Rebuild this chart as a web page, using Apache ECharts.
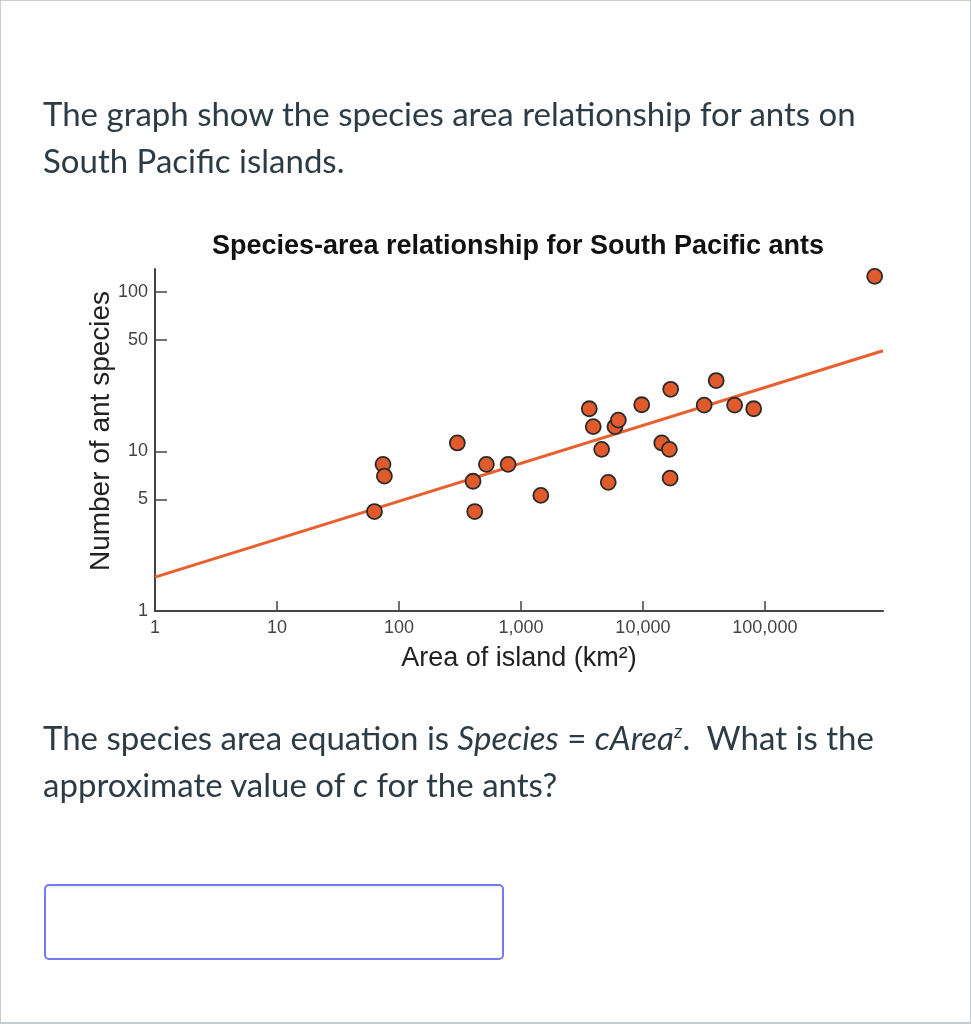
<!DOCTYPE html>
<html>
<head>
<meta charset="utf-8">
<script src="https://cdn.jsdelivr.net/npm/echarts@6/dist/echarts.min.js"></script>
<style>
  html, body { margin: 0; padding: 0; background: #fff; }
  #page {
    position: relative; width: 971px; height: 1024px; overflow: hidden;
    box-sizing: border-box; border: 1px solid #c7cdd1; border-bottom-width: 2px;
  }
  #chart { position: absolute; left: 0; top: 0; width: 971px; height: 1024px; }
  .q {
    position: absolute; left: 42px; margin: 0;
    font-family: Lato, sans-serif; font-size: 33px; line-height: 47px; color: #2d3b45;
  }
  #q1 { top: 89px; }
  #q2 { top: 713px; }
  .sup { font-size: 60%; vertical-align: 0.6em; line-height: 0; }
  #answer {
    position: absolute; left: 43px; top: 883px; width: 460px; height: 76px;
    box-sizing: border-box; border: 2px solid #7878f2; border-radius: 5px;
    box-shadow: inset 0 2px 2px rgba(0,0,0,0.06);
  }
</style>
</head>
<body>
<div id="page">
  <div id="chart"></div>
  <p class="q" id="q1">The graph show the species area relationship for ants on<br>South Pacific islands.</p>
  <p class="q" id="q2">The species area equation is <i>Species</i> = <i>cArea<span class="sup">z</span></i>.&nbsp; What is the<br>approximate value of <i>c</i> for the ants?</p>
  <div id="answer"></div>
</div>
<script>
// island area (km2) and number of ant species
const areaKm2 = [63, 74, 76, 301, 405, 418, 521, 785, 1456, 3633, 3917, 4590, 5200,
  5900, 6290, 9780, 14280, 16500, 16720, 16900, 31800, 39900, 56500, 81000, 795000]
const species = [4.2, 8.3, 7.0, 11.3, 6.5, 4.2, 8.3, 8.3, 5.3, 18.5, 14.3, 10.3, 6.4,
  14.3, 15.7, 19.6, 11.3, 10.3, 6.8, 24.5, 19.5, 27.8, 19.5, 18.5, 125]

// fitted line end points
const fitArea = [1, 930000]
const fitSpecies = [1.63, 42.7]

const xTicks = [1, 10, 100, 1000, 10000, 100000]
const yTicks = [1, 5, 10, 50, 100]

const chart = echarts.init(document.getElementById('chart'))
const font = '"Liberation Sans", Arial, sans-serif'
const axisColor = '#444'

chart.setOption({
  animation: false,
  title: {
    text: 'Species-area relationship for South Pacific ants',
    left: 512, top: 227, textAlign: 'center',
    textStyle: { fontFamily: font, fontSize: 27, fontWeight: 'bold', color: '#111' }
  },
  grid: { left: 154, top: 268, width: 728, height: 342 },
  xAxis: {
    type: 'log', logBase: 10, min: 1, max: 930000,
    name: 'Area of island (km²)', nameLocation: 'middle', nameGap: 34,
    nameMoveOverlap: false,
    nameTextStyle: { fontFamily: font, fontSize: 27, color: '#222' },
    axisLine: { lineStyle: { color: axisColor, width: 2 } },
    axisTick: { inside: true, length: 10, lineStyle: { color: axisColor, width: 1.5 },
      customValues: xTicks.slice(1) },
    axisLabel: { fontFamily: font, fontSize: 18, color: '#444', margin: 8,
      customValues: xTicks, formatter: v => v.toLocaleString('en-US') },
    splitLine: { show: false }
  },
  yAxis: {
    type: 'log', logBase: 10, min: 1, max: 139,
    name: 'Number of ant species', nameLocation: 'middle', nameGap: 40, nameRotate: 90,
    nameMoveOverlap: false,
    nameTextStyle: { fontFamily: font, fontSize: 28, color: '#222', padding: [0, 0, 0, 18] },
    axisLine: { lineStyle: { color: axisColor, width: 2 } },
    axisTick: { inside: true, length: 12, lineStyle: { color: axisColor, width: 1.5 },
      customValues: yTicks.slice(1) },
    axisLabel: { fontFamily: font, fontSize: 18, color: '#444', margin: 7,
      customValues: yTicks },
    splitLine: { show: false }
  },
  series: [
    {
      type: 'line',
      data: fitArea.map((a, i) => [a, fitSpecies[i]]),
      symbol: 'none',
      lineStyle: { color: '#e8602f', width: 3 },
      z: 1
    },
    {
      type: 'scatter',
      data: areaKm2.map((a, i) => [a, species[i]]),
      symbolSize: 15,
      itemStyle: { color: '#e05a2b', borderColor: '#2b2b2b', borderWidth: 1.8, opacity: 1 },
      z: 2
    }
  ]
})
</script>
</body>
</html>
